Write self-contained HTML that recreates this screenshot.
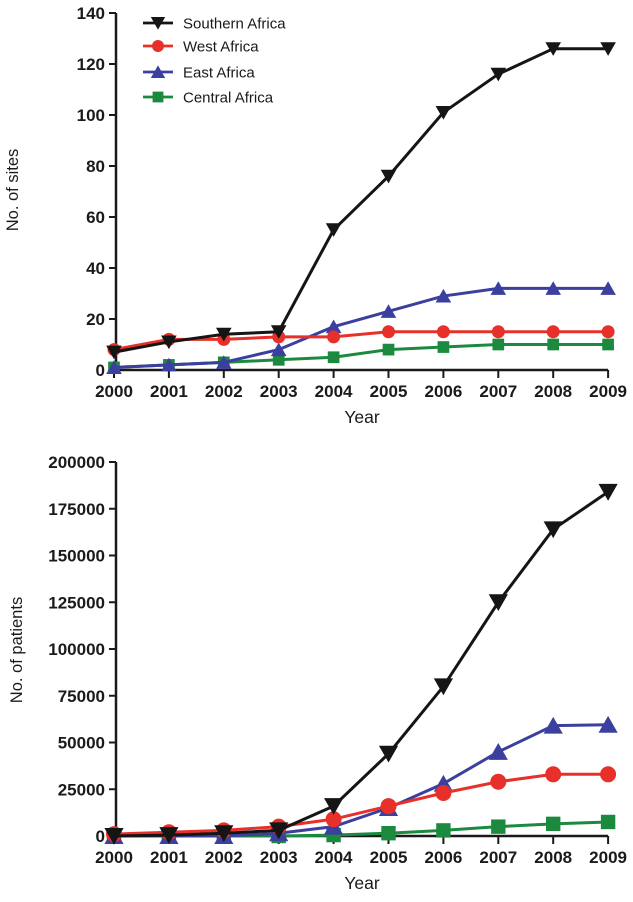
<!DOCTYPE html>
<html><head><meta charset="utf-8"><style>
html,body{margin:0;padding:0;background:#fff;}
svg{display:block;font-family:"Liberation Sans",Arial,sans-serif;}
</style></head><body>
<svg id="c" width="633" height="902" viewBox="0 0 633 902" xmlns="http://www.w3.org/2000/svg"></svg>
<script>
const years = [2000,2001,2002,2003,2004,2005,2006,2007,2008,2009];
const seriesNames = ["Southern Africa","West Africa","East Africa","Central Africa"];
const sitesSouthern = [7,11,14,15,55,76,101,116,126,126];
const sitesWest = [8,12,12,13,13,15,15,15,15,15];
const sitesEast = [1,2,3,8,17,23,29,32,32,32];
const sitesCentral = [1,2,3,4,5,8,9,10,10,10];
const patSouthern = [0,500,1500,3000,16000,44000,80000,125000,164000,184000];
const patWest = [1000,2000,3000,5000,9000,16000,23000,29000,33000,33000];
const patEast = [0,0,0,1500,5000,15000,28000,45000,59000,59500];
const patCentral = [0,0,0,0,500,1500,3000,5000,6500,7500];
const sitesTicks = [0,20,40,60,80,100,120,140];
const patTicks = [0,25000,50000,75000,100000,125000,150000,175000,200000];

const NS="http://www.w3.org/2000/svg";
const svg=document.getElementById('c');
function mk(tag,attrs,parent){const e=document.createElementNS(NS,tag);for(const k in attrs)e.setAttribute(k,attrs[k]);(parent||svg).appendChild(e);return e;}
const colors=["#151515","#e8302a","#3b3f9e","#1b8a3e"];
const shapes=["down","circle","up","square"];
function marker(g,shape,cx,cy,s,col){
  let e;
  if(shape==="down") e=mk('polygon',{points:`${cx-s*0.6},${cy-s*0.5} ${cx+s*0.6},${cy-s*0.5} ${cx},${cy+s*0.55}`,fill:col},g);
  else if(shape==="up") e=mk('polygon',{points:`${cx-s*0.6},${cy+s*0.5} ${cx+s*0.6},${cy+s*0.5} ${cx},${cy-s*0.55}`,fill:col},g);
  else if(shape==="circle") e=mk('circle',{cx:cx,cy:cy,r:s*0.5,fill:col},g);
  else e=mk('rect',{x:cx-s*0.45,y:cy-s*0.45,width:s*0.9,height:s*0.9,fill:col},g);
  
  
}
const x0=114, step=54.9;
function xs(i){return x0+i*step;}

function panel(o){
  const ys=v=>o.y0-(v-o.min)/(o.max-o.min)*(o.y0-o.y1);
  const g=mk('g',{});
  
  
  const ax=mk('path',{d:`M${x0+2},${ys(o.max)} V${o.y0} H${xs(9)}`,stroke:"#1a1a1a","stroke-width":2.5,fill:"none"},g);
  
  
  o.ticks.forEach(t=>{
    mk('line',{x1:x0-5,x2:x0+2,y1:ys(t),y2:ys(t),stroke:"#1a1a1a","stroke-width":2},g);
    const tx=mk('text',{x:x0-9,y:ys(t)+6,"text-anchor":"end","font-size":17,"font-weight":"bold",fill:"#1a1a1a"},g);
    tx.textContent=t;
    
    
  });
  years.forEach((yr,i)=>{
    mk('line',{x1:xs(i),x2:xs(i),y1:o.y0,y2:o.y0+8,stroke:"#1a1a1a","stroke-width":2},g);
    const tx=mk('text',{x:xs(i),y:o.y0+27,"text-anchor":"middle","font-size":17,"font-weight":"bold",fill:"#1a1a1a"},g);
    tx.textContent=yr;
    
    
  });
  const xt=mk('text',{x:362,y:o.y0+53,"text-anchor":"middle","font-size":17.5,fill:"#1a1a1a"},g);
  xt.textContent="Year";
  
  
  const yt=mk('text',{x:0,y:0,transform:`translate(${o.ytx},${o.yty}) rotate(-90)`,"text-anchor":"middle","font-size":16.5,fill:"#1a1a1a"},g);
  yt.textContent=o.ytitle;
  
  
  [3,2,1,0].forEach(k=>{
    const d=o.data[k];
    const sg=mk('g',{},g);
    
    
    mk('polyline',{points:d.map((v,i)=>xs(i)+","+ys(v)).join(" "),fill:"none",stroke:colors[k],"stroke-width":3},sg);
    d.forEach((v,i)=>marker(sg,shapes[k],xs(i),ys(v),o.ms,colors[k]));
  });
}
panel({name:"sites-chart",y0:370,y1:13,min:0,max:140,ticks:sitesTicks,data:[sitesSouthern,sitesWest,sitesEast,sitesCentral],ytitle:"No. of sites",ytx:18,yty:190,ms:13});
panel({name:"patients-chart",y0:836,y1:462,min:0,max:200000,ticks:patTicks,data:[patSouthern,patWest,patEast,patCentral],ytitle:"No. of patients",ytx:22,yty:650,ms:16});

const lg=mk('g',{});


[23,46,72,97].forEach((y,k)=>{
  const eg=mk('g',{},lg);
  
  
  mk('line',{x1:143,x2:173,y1:y,y2:y,stroke:colors[k],"stroke-width":2.8},eg);
  marker(eg,shapes[k],158,y,12,colors[k]);
  const t=mk('text',{x:183,y:y+5.5,"font-size":15,fill:"#1a1a1a"},eg);
  t.textContent=seriesNames[k];
});
</script>
</body></html>
